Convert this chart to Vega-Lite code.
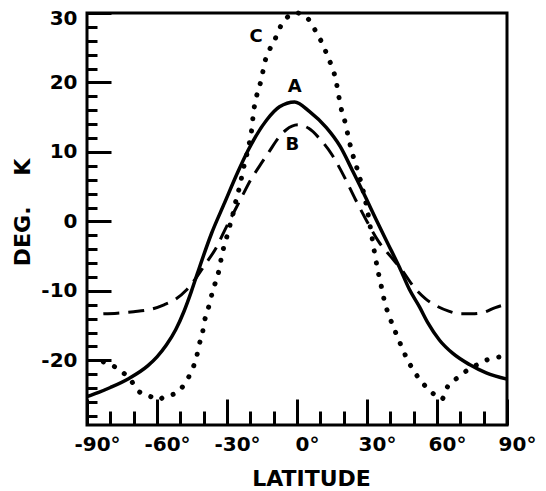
{
  "$schema": "https://vega.github.io/schema/vega-lite/v6.json",
  "width": 420,
  "height": 412,
  "autosize": {"type": "none"},
  "padding": {"left": 87, "top": 13, "right": 39, "bottom": 66},
  "background": "white",
  "config": {
    "view": {"stroke": "black", "strokeWidth": 3},
    "font": "DejaVu Sans"
  },
  "datasets": {
    "curves": [
      {"series": "A", "lat": -90, "temp": -25.2},
      {"series": "A", "lat": -85, "temp": -24.6},
      {"series": "A", "lat": -80, "temp": -23.9},
      {"series": "A", "lat": -72, "temp": -22.6},
      {"series": "A", "lat": -64, "temp": -20.8},
      {"series": "A", "lat": -60, "temp": -19.5},
      {"series": "A", "lat": -56, "temp": -17.8},
      {"series": "A", "lat": -52, "temp": -15.6},
      {"series": "A", "lat": -48.5, "temp": -13.0},
      {"series": "A", "lat": -45.3, "temp": -10.1},
      {"series": "A", "lat": -42.6, "temp": -7.4},
      {"series": "A", "lat": -36.6, "temp": -1.7},
      {"series": "A", "lat": -31, "temp": 2.7},
      {"series": "A", "lat": -25.5, "temp": 7.0},
      {"series": "A", "lat": -21, "temp": 10.2},
      {"series": "A", "lat": -13, "temp": 14.6},
      {"series": "A", "lat": -7.5, "temp": 16.5},
      {"series": "A", "lat": -1, "temp": 17.2},
      {"series": "A", "lat": 5.4, "temp": 15.8},
      {"series": "A", "lat": 12.6, "temp": 13.5},
      {"series": "A", "lat": 18.5, "temp": 10.8},
      {"series": "A", "lat": 23.8, "temp": 7.3},
      {"series": "A", "lat": 29.8, "temp": 3.2},
      {"series": "A", "lat": 34, "temp": 0.2},
      {"series": "A", "lat": 38.8, "temp": -3.1},
      {"series": "A", "lat": 43.9, "temp": -6.6},
      {"series": "A", "lat": 48.2, "temp": -9.8},
      {"series": "A", "lat": 52.5, "temp": -12.3},
      {"series": "A", "lat": 56.1, "temp": -14.6},
      {"series": "A", "lat": 61.1, "temp": -17.1},
      {"series": "A", "lat": 66.8, "temp": -19.0},
      {"series": "A", "lat": 73.9, "temp": -20.6},
      {"series": "A", "lat": 81.1, "temp": -21.8},
      {"series": "A", "lat": 90, "temp": -22.7},

      {"series": "B", "lat": -83, "temp": -13.3},
      {"series": "B", "lat": -77, "temp": -13.2},
      {"series": "B", "lat": -70, "temp": -13.0},
      {"series": "B", "lat": -62, "temp": -12.6},
      {"series": "B", "lat": -57, "temp": -12.0},
      {"series": "B", "lat": -52.5, "temp": -11.3},
      {"series": "B", "lat": -47.5, "temp": -9.9},
      {"series": "B", "lat": -43, "temp": -8.0},
      {"series": "B", "lat": -39.6, "temp": -6.3},
      {"series": "B", "lat": -35, "temp": -4.0},
      {"series": "B", "lat": -30, "temp": -0.6},
      {"series": "B", "lat": -24, "temp": 3.3},
      {"series": "B", "lat": -20, "temp": 5.9},
      {"series": "B", "lat": -16, "temp": 8.0},
      {"series": "B", "lat": -12, "temp": 10.0},
      {"series": "B", "lat": -8, "temp": 12.0},
      {"series": "B", "lat": -4.6, "temp": 13.2},
      {"series": "B", "lat": 0.5, "temp": 13.9},
      {"series": "B", "lat": 5, "temp": 13.4},
      {"series": "B", "lat": 10, "temp": 11.8},
      {"series": "B", "lat": 15, "temp": 9.6},
      {"series": "B", "lat": 20, "temp": 6.6},
      {"series": "B", "lat": 25, "temp": 3.2},
      {"series": "B", "lat": 30, "temp": 0.0},
      {"series": "B", "lat": 35, "temp": -2.9},
      {"series": "B", "lat": 40, "temp": -5.0},
      {"series": "B", "lat": 45, "temp": -7.0},
      {"series": "B", "lat": 50, "temp": -9.4},
      {"series": "B", "lat": 55, "temp": -11.1},
      {"series": "B", "lat": 60, "temp": -12.2},
      {"series": "B", "lat": 65, "temp": -12.9},
      {"series": "B", "lat": 70, "temp": -13.3},
      {"series": "B", "lat": 75, "temp": -13.3},
      {"series": "B", "lat": 80, "temp": -13.1},
      {"series": "B", "lat": 85, "temp": -12.4},
      {"series": "B", "lat": 90, "temp": -11.9},

      {"series": "C", "lat": -83, "temp": -20.2},
      {"series": "C", "lat": -78.2, "temp": -20.9},
      {"series": "C", "lat": -74.4, "temp": -21.8},
      {"series": "C", "lat": -71.1, "temp": -22.9},
      {"series": "C", "lat": -68.4, "temp": -24.3},
      {"series": "C", "lat": -62.8, "temp": -25.2},
      {"series": "C", "lat": -59.5, "temp": -25.7},
      {"series": "C", "lat": -56.8, "temp": -25.2},
      {"series": "C", "lat": -51.8, "temp": -24.7},
      {"series": "C", "lat": -48.2, "temp": -23.4},
      {"series": "C", "lat": -45.3, "temp": -21.6},
      {"series": "C", "lat": -43.2, "temp": -19.7},
      {"series": "C", "lat": -41.8, "temp": -17.6},
      {"series": "C", "lat": -40.5, "temp": -16.0},
      {"series": "C", "lat": -39.4, "temp": -14.0},
      {"series": "C", "lat": -37.5, "temp": -11.9},
      {"series": "C", "lat": -36.2, "temp": -10.1},
      {"series": "C", "lat": -34.6, "temp": -8.4},
      {"series": "C", "lat": -33.2, "temp": -6.7},
      {"series": "C", "lat": -32.3, "temp": -5.0},
      {"series": "C", "lat": -31.3, "temp": -3.6},
      {"series": "C", "lat": -29.9, "temp": -2.0},
      {"series": "C", "lat": -28.7, "temp": -0.5},
      {"series": "C", "lat": -27.5, "temp": 1.0},
      {"series": "C", "lat": -26.3, "temp": 2.8},
      {"series": "C", "lat": -24.6, "temp": 5.0},
      {"series": "C", "lat": -22.9, "temp": 7.7},
      {"series": "C", "lat": -20.6, "temp": 11.0},
      {"series": "C", "lat": -19.5, "temp": 13.0},
      {"series": "C", "lat": -18.6, "temp": 15.8},
      {"series": "C", "lat": -17.5, "temp": 17.8},
      {"series": "C", "lat": -16.1, "temp": 19.4},
      {"series": "C", "lat": -14.9, "temp": 21.1},
      {"series": "C", "lat": -13.9, "temp": 22.8},
      {"series": "C", "lat": -11.8, "temp": 24.7},
      {"series": "C", "lat": -9.6, "temp": 26.1},
      {"series": "C", "lat": -7.9, "temp": 27.4},
      {"series": "C", "lat": -6.1, "temp": 28.7},
      {"series": "C", "lat": 0, "temp": 30.0},
      {"series": "C", "lat": 6.1, "temp": 28.6},
      {"series": "C", "lat": 8.8, "temp": 26.8},
      {"series": "C", "lat": 11.4, "temp": 25.3},
      {"series": "C", "lat": 13.1, "temp": 23.7},
      {"series": "C", "lat": 15.2, "temp": 22.1},
      {"series": "C", "lat": 16.8, "temp": 20.1},
      {"series": "C", "lat": 17.8, "temp": 18.2},
      {"series": "C", "lat": 18.9, "temp": 16.3},
      {"series": "C", "lat": 20.6, "temp": 14.3},
      {"series": "C", "lat": 22.5, "temp": 11.4},
      {"series": "C", "lat": 23.9, "temp": 9.6},
      {"series": "C", "lat": 26.1, "temp": 7.2},
      {"series": "C", "lat": 28.5, "temp": 4.2},
      {"series": "C", "lat": 30.5, "temp": 1.0},
      {"series": "C", "lat": 32, "temp": -2.0},
      {"series": "C", "lat": 33.5, "temp": -5.0},
      {"series": "C", "lat": 35, "temp": -7.6},
      {"series": "C", "lat": 36.3, "temp": -9.6},
      {"series": "C", "lat": 37.5, "temp": -11.5},
      {"series": "C", "lat": 39.6, "temp": -13.7},
      {"series": "C", "lat": 41.8, "temp": -15.6},
      {"series": "C", "lat": 43.9, "temp": -17.3},
      {"series": "C", "lat": 46.9, "temp": -19.6},
      {"series": "C", "lat": 50.4, "temp": -21.7},
      {"series": "C", "lat": 53.7, "temp": -23.2},
      {"series": "C", "lat": 58.1, "temp": -24.7},
      {"series": "C", "lat": 62, "temp": -25.6},
      {"series": "C", "lat": 64.5, "temp": -23.8},
      {"series": "C", "lat": 68.8, "temp": -22.5},
      {"series": "C", "lat": 73.1, "temp": -21.4},
      {"series": "C", "lat": 77.4, "temp": -20.6},
      {"series": "C", "lat": 81.6, "temp": -19.9},
      {"series": "C", "lat": 86.8, "temp": -19.5},
      {"series": "C", "lat": 89.5, "temp": -19.3}
    ],
    "labels": [
      {"label": "A", "lat": -1, "temp": 19.4},
      {"label": "B", "lat": -2, "temp": 11.0},
      {"label": "C", "lat": -17.5, "temp": 26.6}
    ]
  },
  "encoding": {
    "x": {
      "field": "lat",
      "type": "quantitative",
      "scale": {"domain": [-90, 90], "nice": false, "zero": false},
      "axis": {
        "values": [-90, -80, -70, -60, -50, -40, -30, -20, -10, 0, 10, 20, 30, 40, 50, 60, 70, 80, 90],
        "labelExpr": "datum.value % 30 === 0 ? datum.value + '°' : ''",
        "tickSize": {"expr": "datum.value % 30 === 0 ? -26 : -14"},
        "tickWidth": 3,
        "tickColor": "black",
        "domain": false,
        "grid": false,
        "labelPadding": 35,
        "labelOffset": 10,
        "labelFlush": false,
        "labelOverlap": false,
        "labelFont": "DejaVu Sans",
        "labelFontSize": 20,
        "labelFontWeight": "bold",
        "labelColor": "black",
        "title": "LATITUDE",
        "titleFont": "DejaVu Sans",
        "titleFontSize": 22,
        "titleFontWeight": "bold",
        "titleColor": "black",
        "titlePadding": 2,
        "titleX": 224
      }
    },
    "y": {
      "field": "temp",
      "type": "quantitative",
      "scale": {"domain": [-29.3, 30], "nice": false, "zero": false},
      "axis": {
        "values": [-28, -26, -24, -22, -20, -18, -16, -14, -12, -10, -8, -6, -4, -2, 0, 2, 4, 6, 8, 10, 12, 14, 16, 18, 20, 22, 24, 26, 28, 30],
        "labelExpr": "datum.value % 10 === 0 ? datum.value + '' : ''",
        "tickSize": {"expr": "datum.value % 10 === 0 ? -24 : -10"},
        "tickWidth": 3,
        "tickColor": "black",
        "domain": false,
        "grid": false,
        "labelPadding": 34,
        "labelFlush": true,
        "labelFlushOffset": 5,
        "labelOverlap": false,
        "labelFont": "DejaVu Sans",
        "labelFontSize": 20,
        "labelFontWeight": "bold",
        "labelColor": "black",
        "title": "DEG.\u00a0\u00a0\u00a0\u00a0K",
        "titleFont": "DejaVu Sans",
        "titleFontSize": 22,
        "titleFontWeight": "bold",
        "titleColor": "black",
        "titlePadding": 6,
        "titleY": 199
      }
    }
  },
  "layer": [
    {
      "data": {"name": "curves"},
      "transform": [{"filter": "datum.series === 'A'"}],
      "mark": {"type": "line", "interpolate": "monotone", "color": "black", "strokeWidth": 3.5, "clip": false}
    },
    {
      "data": {"name": "curves"},
      "transform": [{"filter": "datum.series === 'B'"}],
      "mark": {"type": "line", "interpolate": "monotone", "color": "black", "strokeWidth": 3, "strokeDash": [16, 9], "clip": false}
    },
    {
      "data": {"name": "curves"},
      "transform": [{"filter": "datum.series === 'C'"}],
      "mark": {"type": "line", "interpolate": "monotone", "color": "black", "strokeWidth": 5, "strokeDash": [0.1, 12], "strokeCap": "round", "clip": false}
    },
    {
      "data": {"name": "labels"},
      "mark": {"type": "text", "font": "DejaVu Sans", "fontSize": 18, "fontWeight": "bold", "color": "black", "align": "center", "baseline": "middle"},
      "encoding": {"text": {"field": "label", "type": "nominal"}}
    }
  ]
}
